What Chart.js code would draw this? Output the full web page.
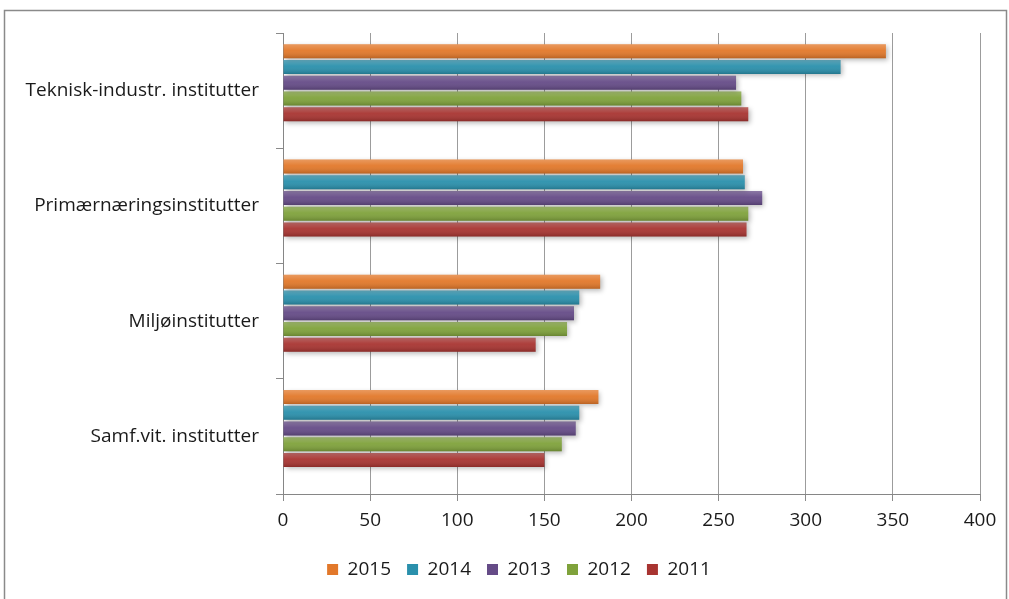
<!DOCTYPE html>
<html>
<head>
<meta charset="utf-8">
<script src="https://cdn.jsdelivr.net/npm/chart.js@4.4.1/dist/chart.umd.min.js"></script>
<style>
  html, body { margin: 0; padding: 0; background: #fff; }
  #wrap { width: 1009px; height: 599px; position: relative; }
</style>
</head>
<body>
<div id="wrap"><canvas id="instChart"></canvas></div>
<script>
// data
const categories = ['Teknisk-industr. institutter', 'Primærnæringsinstitutter', 'Miljøinstitutter', 'Samf.vit. institutter'];
const years = ['2015', '2014', '2013', '2012', '2011'];
const v2015 = [346, 264, 182, 181];
const v2014 = [320, 265, 170, 170];
const v2013 = [260, 275, 167, 168];
const v2012 = [263, 267, 163, 160];
const v2011 = [267, 266, 145, 150];
// the original has an empty slot under the 2011 bars in every group
const emptySlot = [null, null, null, null];
const xMin = 0, xMax = 400, xStep = 50;

const seriesValues = [v2015, v2014, v2013, v2012, v2011];
const seriesColors = ['#E2782A', '#2A90AC', '#654B87', '#7FA23B', '#A83431'];

const FONT = '"Open Sans", Lato, sans-serif';

// frame round the chart, like the Excel chart area
const frame = {
    id: 'frame',
    beforeDraw(chart) {
        const c = chart.ctx;
        c.save();
        c.fillStyle = '#fff';
        c.fillRect(0, 0, chart.width, chart.height);
        c.strokeStyle = '#8a8a8a';
        c.lineWidth = 1.5;
        c.strokeRect(4.5, 10.5, 1002, 620);
        c.restore();
    }
};

// Excel centres the legend under the plot, not the whole canvas
const legendShift = {
    id: 'legendShift',
    afterLayout(chart) {
        if (chart.legend) chart.legend.left += 58;
    }
};

// soft drop shadow under the bars + light/dark gradient on top
const barLook = {
    id: 'barLook',
    beforeDatasetsDraw(chart) {
        const c = chart.ctx;
        c.save();
        c.shadowColor = 'rgba(0,0,0,0.28)';
        c.shadowBlur = 5;
        c.shadowOffsetX = 2;
        c.shadowOffsetY = 2;
    },
    afterDatasetsDraw(chart) {
        const c = chart.ctx;
        c.restore();
        c.save();
        chart.data.datasets.forEach((ds, i) => {
            chart.getDatasetMeta(i).data.forEach(bar => {
                if (bar.skip || !isFinite(bar.x)) return;
                const top = bar.y - bar.height / 2;
                const g = c.createLinearGradient(0, top, 0, top + bar.height);
                g.addColorStop(0, 'rgba(255,255,255,0.25)');
                g.addColorStop(0.45, 'rgba(255,255,255,0.05)');
                g.addColorStop(1, 'rgba(0,0,0,0.18)');
                c.fillStyle = g;
                c.fillRect(bar.base, top, bar.x - bar.base, bar.height);
            });
        });
        c.restore();
    }
};

const datasets = years.map((y, i) => ({
    label: y,
    data: seriesValues[i],
    backgroundColor: seriesColors[i],
    borderWidth: 0,
    barPercentage: 0.89,
    categoryPercentage: 0.82
}));
datasets.push({
    label: '',
    data: emptySlot,
    backgroundColor: 'rgba(0,0,0,0)',
    borderWidth: 0,
    barPercentage: 0.89,
    categoryPercentage: 0.82
});

const ctx = document.getElementById('instChart').getContext('2d');
const instChart = new Chart(ctx, {
    type: 'bar',
    data: {
        labels: categories,
        datasets: datasets
    },
    options: {
        indexAxis: 'y',
        responsive: true,
        maintainAspectRatio: false,
        animation: false,
        layout: {
            padding: { top: 33, right: 29, bottom: 10, left: 0 }
        },
        scales: {
            x: {
                min: xMin,
                max: xMax,
                ticks: {
                    stepSize: xStep,
                    padding: 8,
                    color: '#1a1a1a',
                    font: { family: FONT, size: 19 }
                },
                grid: {
                    color: '#9c9c9c',
                    tickLength: 7,
                    tickColor: '#8a8a8a'
                },
                border: { color: '#868686' },
                afterFit: scale => { scale.height = 50; }
            },
            y: {
                ticks: {
                    padding: 17,
                    color: '#1a1a1a',
                    font: { family: FONT, size: 19 }
                },
                grid: {
                    drawOnChartArea: false,
                    tickLength: 7,
                    color: '#8a8a8a'
                },
                border: { color: '#868686' },
                afterFit: scale => { scale.width = 283; }
            }
        },
        plugins: {
            legend: {
                position: 'bottom',
                labels: {
                    boxWidth: 11,
                    boxHeight: 11,
                    padding: 16,
                    color: '#1a1a1a',
                    font: { family: FONT, size: 19 },
                    filter: item => item.text !== ''
                }
            },
            tooltip: { enabled: false }
        }
    },
    plugins: [frame, legendShift, barLook]
});
</script>
</body>
</html>
